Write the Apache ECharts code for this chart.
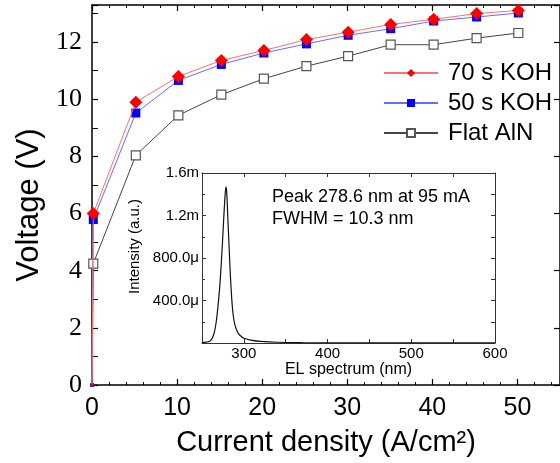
<!DOCTYPE html>
<html>
<head>
<meta charset="utf-8">
<script src="https://cdn.jsdelivr.net/npm/echarts@6/dist/echarts.min.js"></script>
<style>html,body{margin:0;padding:0;background:#fff}#c{width:560px;height:463px}</style>
</head>
<body>
<div id="c"></div>
<script>
// Main I-V data: current density (A/cm^2) vs voltage (V)
var currentDensity = [0, 0.15, 5.15, 10.15, 15.2, 20.2, 25.2, 30.1, 35.1, 40.15, 45.2, 50.1];
var v70sKOH  = [0, 6.00, 9.90, 10.80, 11.36, 11.71, 12.09, 12.35, 12.62, 12.80, 13.00, 13.11];
var v50sKOH  = [0, 5.79, 9.52, 10.66, 11.22, 11.62, 11.94, 12.24, 12.47, 12.74, 12.88, 13.02];
var vFlatAlN = [0, 4.25, 8.04, 9.44, 10.16, 10.72, 11.16, 11.51, 11.91, 11.91, 12.14, 12.32];
var seriesNames = ['70 s KOH', '50 s KOH', 'Flat AlN'];

// Inset EL spectrum: wavelength (nm) vs intensity (in units of 1e-3 a.u.)
var wavelength = [250, 255, 260, 264, 267, 270, 272, 274, 276, 277.5, 278.6, 279.5, 281, 282.5, 284, 285.5, 287, 289, 292, 295, 300, 310, 320, 340, 370, 400, 450, 500, 550, 600];
var intensity  = [0.005, 0.008, 0.02, 0.08, 0.2, 0.42, 0.62, 0.88, 1.18, 1.38, 1.47, 1.42, 1.15, 0.88, 0.62, 0.42, 0.28, 0.18, 0.11, 0.075, 0.045, 0.025, 0.015, 0.007, 0.003, 0.002, 0.001, 0.001, 0.0005, 0.0005];
var insetYTickLabels = {'0.4': '400.0\u03bc', '0.8': '800.0\u03bc', '1.2': '1.2m', '1.6': '1.6m'};
var insetXTickLabels = [300, 400, 500, 600];
var insetNote1 = 'Peak 278.6 nm at 95 mA';
var insetNote2 = 'FWHM = 10.3 nm';

function zip(a, b) { return a.map(function (x, i) { return [x, b[i]]; }); }

var chart = echarts.init(document.getElementById('c'), null, {renderer: 'canvas'});
var sans = 'Liberation Sans';
var serif = 'Liberation Serif';
function smallOrigin(size) {
  return function (val, p) { return p.dataIndex === 0 ? 3 : size; };
}

var option = {
  backgroundColor: '#fff',
  animation: false,
  grid: [
    {left: 92, top: 5, right: -8, bottom: 78, containLabel: false},
    {left: 202, top: 173, width: 293, height: 170}
  ],
  xAxis: [
    {
      gridIndex: 0, type: 'value', min: 0, max: 55, interval: 10,
      name: 'Current density (A/cm\u00b2)', nameLocation: 'middle', nameGap: 43,
      nameTextStyle: {fontFamily: sans, fontSize: 29, color: '#000'},
      axisLine: {show: true, onZero: false, lineStyle: {color: '#000', width: 1.5}},
      axisTick: {show: true, inside: true, length: 6, lineStyle: {color: '#000', width: 1.2}},
      minorTick: {show: true, splitNumber: 5, length: 3, lineStyle: {color: '#000', width: 1}},
      axisLabel: {fontFamily: sans, fontSize: 25, color: '#000', margin: 11, showMaxLabel: false,
        formatter: function (v) { return v % 10 === 0 ? String(v) : ''; }},
      splitLine: {show: false}
    },
    {
      gridIndex: 0, type: 'value', min: 0, max: 55, interval: 10, position: 'top',
      axisLine: {show: true, onZero: false, lineStyle: {color: '#000', width: 1.5}},
      axisTick: {show: true, inside: true, length: 6, lineStyle: {color: '#000', width: 1.2}},
      minorTick: {show: true, splitNumber: 5, length: 3, lineStyle: {color: '#000', width: 1}},
      axisLabel: {show: false}, splitLine: {show: false}
    },
    {
      gridIndex: 1, type: 'value', min: 250, max: 600, interval: 50,
      name: 'EL spectrum (nm)', nameLocation: 'middle', nameGap: 16,
      nameTextStyle: {fontFamily: sans, fontSize: 16, color: '#000'},
      axisLine: {show: true, onZero: false, lineStyle: {color: '#333', width: 1}},
      axisTick: {show: true, inside: true, length: 4, lineStyle: {color: '#333', width: 1}},
      axisLabel: {fontFamily: sans, fontSize: 15, color: '#000', margin: 3,
        formatter: function (v) { return insetXTickLabels.indexOf(v) >= 0 ? String(v) : ''; }},
      splitLine: {show: false}
    },
    {
      gridIndex: 1, type: 'value', min: 250, max: 600, interval: 50, position: 'top',
      axisLine: {show: true, onZero: false, lineStyle: {color: '#333', width: 1}},
      axisTick: {show: true, inside: true, length: 4, lineStyle: {color: '#333', width: 1}},
      axisLabel: {show: false}, splitLine: {show: false}
    }
  ],
  yAxis: [
    {
      gridIndex: 0, type: 'value', min: 0, max: 13.3, interval: 2,
      name: 'Voltage (V)', nameLocation: 'middle', nameGap: 46,
      nameTextStyle: {fontFamily: sans, fontSize: 31, color: '#000', padding: [0, 20, 0, 0]},
      axisLine: {show: true, onZero: false, lineStyle: {color: '#000', width: 1.5}},
      axisTick: {show: true, inside: true, length: 6, lineStyle: {color: '#000', width: 1.2}},
      minorTick: {show: true, splitNumber: 2, length: 6, lineStyle: {color: '#000', width: 1}},
      axisLabel: {fontFamily: serif, fontSize: 26, color: '#000', margin: 10, showMaxLabel: false,
        formatter: function (v) { return v % 2 === 0 ? String(v) : ''; }},
      splitLine: {show: false}
    },
    {
      gridIndex: 0, type: 'value', min: 0, max: 13.3, interval: 2, position: 'right',
      axisLine: {show: true, onZero: false, lineStyle: {color: '#000', width: 1.5}},
      axisTick: {show: true, inside: true, length: 6, lineStyle: {color: '#000', width: 1.2}},
      axisLabel: {show: false}, splitLine: {show: false}
    },
    {
      gridIndex: 1, type: 'value', min: 0, max: 1.6, interval: 0.4,
      name: 'Intensity (a.u.)', nameLocation: 'middle', nameGap: 55,
      nameTextStyle: {fontFamily: sans, fontSize: 15, color: '#000', padding: [0, 0, 0, 23]},
      axisLine: {show: true, onZero: false, lineStyle: {color: '#333', width: 1}},
      axisTick: {show: true, inside: true, length: 4, lineStyle: {color: '#333', width: 1}},
      minorTick: {show: true, splitNumber: 2, length: 3, lineStyle: {color: '#333', width: 1}},
      axisLabel: {fontFamily: sans, fontSize: 15, color: '#000', margin: 3,
        formatter: function (v) { var k = String(Math.round(v * 10) / 10); return insetYTickLabels[k] || ''; }},
      splitLine: {show: false}
    },
    {
      gridIndex: 1, type: 'value', min: 0, max: 1.6, interval: 0.2, position: 'right',
      axisLine: {show: true, onZero: false, lineStyle: {color: '#333', width: 1}},
      axisTick: {show: true, inside: true, length: 4, lineStyle: {color: '#333', width: 1}},
      axisLabel: {show: false}, splitLine: {show: false}
    }
  ],
  legend: {
    orient: 'vertical', left: 383, top: 61, padding: 0, itemGap: 6, itemWidth: 54, itemHeight: 10,
    data: seriesNames,
    textStyle: {fontFamily: sans, fontSize: 24, lineHeight: 24, color: '#000', padding: [0, 0, 0, 5]},
    backgroundColor: 'transparent'
  },
  graphic: [
    {type: 'text', left: 272, top: 188, style: {text: insetNote1, fontFamily: sans, fontSize: 18, fill: '#000'}},
    {type: 'text', left: 272, top: 210, style: {text: insetNote2, fontFamily: sans, fontSize: 18, fill: '#000'}}
  ],
  series: [
    {
      name: seriesNames[2], type: 'line', xAxisIndex: 0, yAxisIndex: 0,
      data: zip(currentDensity, vFlatAlN),
      symbol: 'rect', symbolSize: smallOrigin(9),
      lineStyle: {color: '#444', width: 1},
      itemStyle: {color: '#fff', borderColor: '#555', borderWidth: 1.2},
      z: 3
    },
    {
      name: seriesNames[1], type: 'line', xAxisIndex: 0, yAxisIndex: 0,
      data: zip(currentDensity, v50sKOH),
      symbol: 'rect', symbolSize: smallOrigin(9),
      lineStyle: {color: '#6b6bff', width: 1},
      itemStyle: {color: '#0000ff'},
      z: 4
    },
    {
      name: seriesNames[0], type: 'line', xAxisIndex: 0, yAxisIndex: 0,
      data: zip(currentDensity, v70sKOH),
      symbol: 'diamond', symbolSize: smallOrigin(13),
      lineStyle: {color: '#ff7070', width: 1},
      itemStyle: {color: '#ff0000'},
      z: 5
    },
    {
      name: 'EL', type: 'line', xAxisIndex: 2, yAxisIndex: 2,
      data: zip(wavelength, intensity),
      showSymbol: false, symbol: 'none', smooth: 0.3,
      lineStyle: {color: '#111', width: 1.2},
      z: 6
    }
  ]
};
chart.setOption(option);
</script>
</body>
</html>
